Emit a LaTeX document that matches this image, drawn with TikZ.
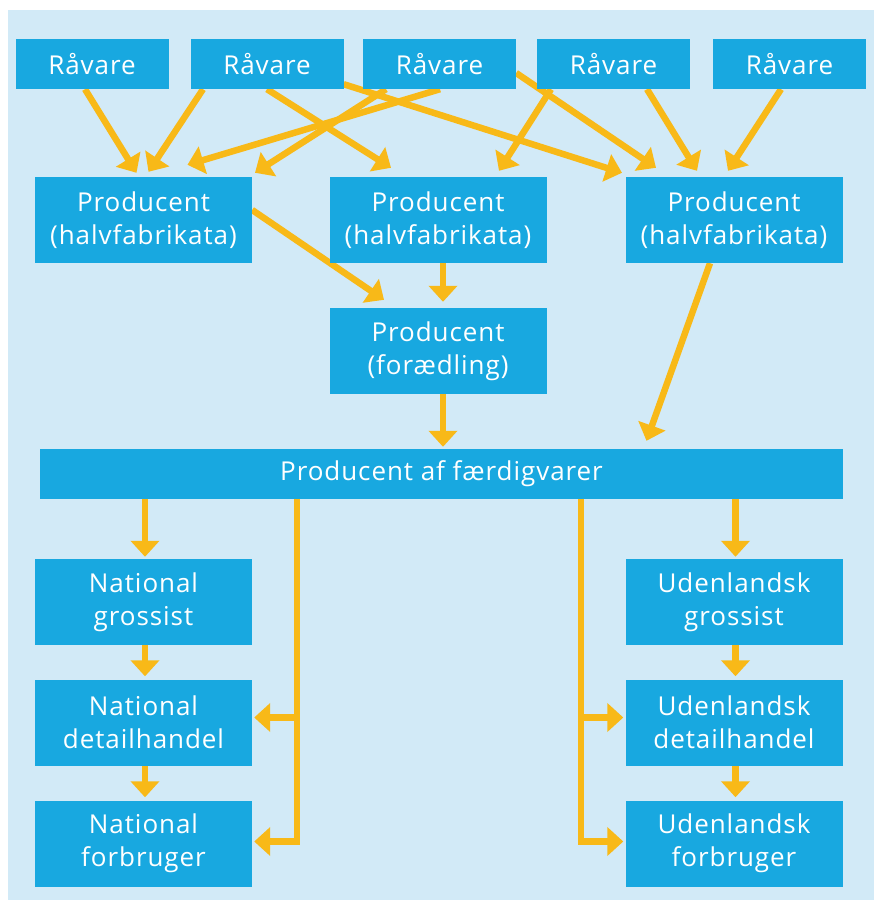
\documentclass[tikz,border=0pt]{standalone}
\usepackage{fontspec}
\setmainfont{Open Sans}[LetterSpace=3.6]
\usetikzlibrary{arrows.meta,calc}
\definecolor{boxblue}{RGB}{24,168,224}
\definecolor{bgblue}{RGB}{210,234,247}
\definecolor{arrowc}{RGB}{248,185,24}
\pgfdeclarelayer{bg}
\pgfsetlayers{bg,main}
\begin{document}
\begin{tikzpicture}[x=1pt,y=-1pt,
  box/.style={fill=boxblue,text=white,inner sep=0pt,align=center,font=\fontsize{26}{33}\selectfont},
  rbox/.style={box,minimum width=153pt,minimum height=50pt},
  pbox/.style={box,minimum width=217pt,minimum height=86pt},
  arr/.style={draw=arrowc,line width=6.5pt,-{Triangle[width=28pt,length=16pt]}}]
\useasboundingbox (0,0) rectangle (874,907);
\node[rbox] (r1) at (92,64) {Råvare};
\node[rbox] (r2) at (267,64) {Råvare};
\node[rbox] (r3) at (439.5,64) {Råvare};
\node[rbox] (r4) at (613.5,64) {Råvare};
\node[rbox] (r5) at (789.5,64) {Råvare};
\node[pbox] (p1) at (143.5,220) {Producent\\(halvfabrikata)};
\node[pbox] (p2) at (438,220) {Producent\\(halvfabrikata)};
\node[pbox] (p3) at (734,220) {Producent\\(halvfabrikata)};
\node[pbox] (pf) at (438,351) {Producent\\(forædling)};
\node[box,minimum width=803pt,minimum height=50pt] (fv) at (441.5,474) {Producent af færdigvarer};
\node[pbox] (ng) at (143.5,602) {National\\grossist};
\node[pbox] (nd) at (143.5,722.5) {National\\detailhandel};
\node[pbox] (nf) at (143.5,843.5) {National\\forbruger};
\node[pbox] (ug) at (734,602) {Udenlandsk\\grossist};
\node[pbox] (ud) at (734,722.5) {Udenlandsk\\detailhandel};
\node[pbox] (uf) at (734,843.5) {Udenlandsk\\forbruger};
\begin{pgfonlayer}{bg}
\fill[bgblue] (8,10) rectangle (874,900);
% raw materials -> semi-manufacturers
\draw[arr] ($(r1.south)+(-7,0)$) -- ($(p1.north)+(-7,-4)$);
\draw[arr] ($(r2.south)+(-64,0)$) -- ($(p1.north)+(5,-5)$);
\draw[arr] ($(r3.south)+(0.5,0)$) -- ($(p1.north)+(44,-12)$);
\draw[arr] ($(r3.south)+(-53.5,0)$) -- ($(p1.north)+(111.5,-4)$);
\draw[arr] (r2.south) -- ($(p2.north)+(-47,-9)$);
\draw[arr] ($(r2.south east)+(0,-5)$) -- ($(p3.north)+(-112,-4)$);
\draw[arr] ($(r3.east)+(0,9)$) -- ($(p3.north)+(-78,-9)$);
\draw[arr] ($(r4.south)+(-62.5,0)$) -- ($(p2.north)+(61,-6)$);
\draw[arr] ($(r4.south)+(33.5,0)$) -- ($(p3.north)+(-37,-6)$);
\draw[arr] ($(r5.south)+(-8.5,0)$) -- ($(p3.north)+(-6,-6)$);
% semi -> refining / finished goods
\draw[arr] ($(p1.east)+(0,-10)$) -- ($(pf.north)+(-54,-8)$);
\draw[arr] ($(p2.south)+(5,0)$) -- ($(pf.north)+(5,-6)$);
\draw[arr] ($(pf.south)+(5,0)$) -- ($(fv.north)+(1.5,-2)$);
\draw[arr] ($(p3.south)+(-24,0)$) -- ($(fv.north)+(205,-8)$);
% distribution
\draw[arr] ($(fv.south -| ng.north)+(1.5,0)$) -- ($(ng.north)+(1.5,-2)$);
\draw[arr] ($(fv.south -| ug.north)+(1.5,0)$) -- ($(ug.north)+(1.5,-2)$);
\draw[arr] ($(ng.south)+(1.5,0)$) -- ($(nd.north)+(1.5,-3)$);
\draw[arr] ($(nd.south)+(1.5,0)$) -- ($(nf.north)+(1.5,-3)$);
\draw[arr] ($(ug.south)+(1.5,0)$) -- ($(ud.north)+(1.5,-3)$);
\draw[arr] ($(ud.south)+(1.5,0)$) -- ($(uf.north)+(1.5,-3)$);
\coordinate (tl) at ($(fv.south)+(-144.5,0)$);
\coordinate (tr) at ($(fv.south)+(139.5,0)$);
\draw[arr] (tl) |- ($(nf.east)+(2,-2)$);
\draw[arr] ($(tl |- nd.east)+(0,-5)$) -- ($(nd.east)+(2,-5)$);
\draw[arr] (tr) |- ($(uf.west)+(-2,-2)$);
\draw[arr] ($(tr |- ud.west)+(0,-5)$) -- ($(ud.west)+(-2,-5)$);
\end{pgfonlayer}
\end{tikzpicture}
\end{document}
